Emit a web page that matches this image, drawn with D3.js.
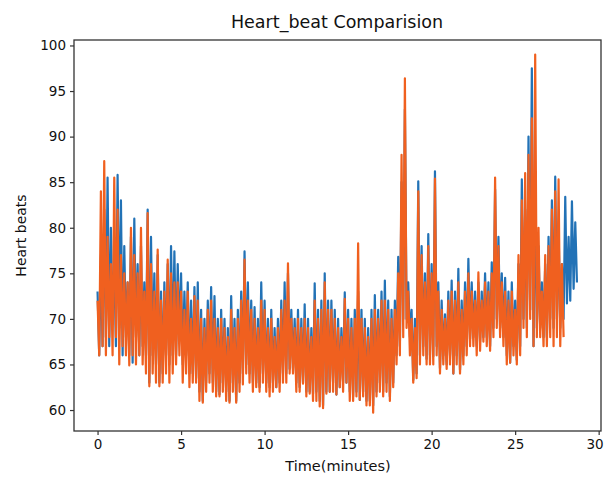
<!DOCTYPE html>
<html>
<head>
<meta charset="utf-8">
<script src="https://cdn.jsdelivr.net/npm/d3@7"></script>
<style>
  html, body { margin: 0; padding: 0; background: #ffffff; }
  svg { display: block; }
</style>
</head>
<body>
<div id="chart"></div>
<script>
// ---- data ----
const title = "Heart_beat Comparision";
const xLabel = "Time(minutes)";
const yLabel = "Heart beats";
const xTicks = [0, 5, 10, 15, 20, 25, 30];
const yTicks = [60, 65, 70, 75, 80, 85, 90, 95, 100];
const sampleStep = 0.1; // minutes between samples
const seriesNames = ["blue", "orange"];

const blueValues = [
  73,66, 77,67, 82,68, 85.5,67, 80,70, 76,67, 85.8,69, 83,66, 78,68, 74,66,
  79,65.2, 81,68, 76,66, 78,67, 74,66, 82,63, 79,66, 75,65, 77,63, 73,64,
  74,66, 76,65, 78,66, 77.4,66, 76,68, 75,65, 73,66, 74,64, 72,64, 73.5,63.5,
  74,62, 71,61, 70,63, 72,64, 73.5,63, 72.5,62, 70,61.7, 71,63, 70,62, 69,61,
  72.5,63, 70,61, 71,63, 73,64, 77.4,65, 74,64, 72,63, 71.3,63, 70,62.5, 74,64,
  72,63, 70,62.5, 71,63, 69,62.5, 70,63, 72,64, 74,64, 75,64.5, 71,64.6, 70,63,
  71,62.5, 70,63, 71.6,62, 70,62, 69,61.8, 73.9,62, 71,61, 72,60.5, 75,62, 72,62,
  72,63, 71,61.7, 70,62.5, 69,63, 72.9,63, 71,62, 70,61.5, 71,62, 73,61.1, 71,62,
  70,61, 69,61, 71,60.5, 72.6,62, 71,63, 73,62, 74.2,63, 72,61.5, 71,63, 72,66,
  76.8,67, 85,70, 93,70, 74,68, 71,63.3, 70,64, 85.1,66, 78,67, 75,65.6, 79.3,66,
  76,65.9, 86.2,67, 74,64.6, 72,66, 70.5,65, 73,66, 74.2,64, 73,66, 75.5,64.4, 72,66,
  74,67, 76.6,67.8, 74,68, 73,67, 74,67.5, 73,68, 75,68, 74,67, 76.2,69, 84.2,70,
  79,69, 75,68, 74.5,66, 73,65.2, 74,67, 72,65.5, 76,67, 85.3,70, 82,69, 90,71,
  97.5,67, 84,69, 78,69, 74,68, 76,68, 79,70, 83,69, 85.6,70, 80,69, 76,70,
  83.4,71.7, 79,72, 82.9,73.3, 80.6,74
];

const orangeValues = [
  72,66, 84,67, 87.3,66, 79,68, 76,66, 85.5,68, 82,65, 77,67, 75,66, 74,64.9,
  80,66, 77,65, 75,66, 80,65, 73,64, 81.6,62.6, 76,64, 73,63, 77.6,62.6, 72,63,
  73,64, 76.5,63, 75,64, 74,65, 74,66, 73,63, 71,64, 73,62.5, 70,63, 72.5,63,
  72,61, 70,60.8, 69,62, 71,63, 72,62, 70,61.5, 69,61.5, 70,62, 69,61, 68,60.8,
  71,62, 69,60.8, 70,62, 72,62.8, 76.5,64, 72,63, 71,62, 70,62.5, 69,62, 72,63,
  71,62, 69,61.5, 70,62, 68,62.5, 69,62, 71,63, 72,63, 76.1,64, 70,64, 69,62,
  70,62, 69,62.9, 70,61.5, 69,61.8, 68,61, 72,61, 70,60.4, 71,60.2, 74,61.8, 71,62,
  71,62, 70,61.7, 69,62.5, 68,62, 72.2,63, 70,61, 69,61, 70,61.5, 78.3,61.1, 70,61.5,
  69,60.5, 68,60.5, 70,59.7, 71,61.5, 70,62, 72,61.5, 72,62, 71,61, 70,62.5, 71,65,
  75,66, 88,68, 96.4,69, 73,66, 70,63, 69,63.5, 84,65, 77,66, 74,65, 78,65,
  75,65, 85.4,66, 73,64, 71,65, 70,64.5, 72,65, 73,64, 72,65, 74,64, 71,65,
  73,66, 75,67, 73,67, 72,66, 75.1,66.5, 72,67.5, 74,67, 73,66.5, 75,68, 85.5,69,
  78,68, 74,67, 73,65, 72,65.2, 73,66, 71,65, 77,66, 83,69, 86,68, 88,70,
  92,67, 99,68, 80,68, 73,67, 77,67, 78,68, 82,67, 84,68, 85.3,67, 76,68
];

// ---- drawing ----
const W = 607, H = 477;
const mLeft = 74, mRight = 601, mTop = 40, mBottom = 431;

const svg = d3.select("#chart").append("svg")
  .attr("width", W).attr("height", H)
  .style("font-family", "'DejaVu Sans', sans-serif");

const x = d3.scaleLinear().domain([-1.41, 30.14]).range([mLeft, mRight]);
const y = d3.scaleLinear().domain([57.7, 100.6]).range([mBottom, mTop]);

const colors = { blue: "#2272b6", orange: "#f0601f" };

svg.append("clipPath").attr("id", "plotclip")
  .append("rect").attr("x", mLeft).attr("y", mTop)
  .attr("width", mRight - mLeft).attr("height", mBottom - mTop);

const line = d3.line()
  .x((d, i) => x(i * sampleStep))
  .y(d => y(d));

const plot = svg.append("g").attr("clip-path", "url(#plotclip)");
[blueValues, orangeValues].forEach((vals, k) => {
  plot.append("path")
    .datum(vals)
    .attr("fill", "none")
    .attr("stroke", colors[seriesNames[k]])
    .attr("stroke-width", 2.2)
    .attr("stroke-linejoin", "round")
    .attr("d", line);
});

// axes
const xAxis = d3.axisBottom(x).tickValues(xTicks).tickSize(4).tickPadding(4).tickFormat(d3.format("d"));
const yAxis = d3.axisLeft(y).tickValues(yTicks).tickSize(4).tickPadding(4).tickFormat(d3.format("d"));

const gx = svg.append("g").attr("transform", `translate(0,${mBottom})`).call(xAxis);
const gy = svg.append("g").attr("transform", `translate(${mLeft},0)`).call(yAxis);
[gx, gy].forEach(g => {
  g.select(".domain").remove();
  g.selectAll(".tick line").attr("stroke", "#333").attr("stroke-width", 1.2);
  g.selectAll(".tick text").attr("fill", "#111").style("font-size", "13.5px")
    .style("font-family", "'DejaVu Sans', sans-serif");
});
// keep the last x label inside the picture
gx.selectAll(".tick text").filter(d => d === 30).attr("dx", "-0.3em");

// frame
svg.append("rect")
  .attr("x", mLeft).attr("y", mTop)
  .attr("width", mRight - mLeft).attr("height", mBottom - mTop)
  .attr("fill", "none").attr("stroke", "#333").attr("stroke-width", 1.3);

// title and labels
svg.append("text")
  .attr("x", 337).attr("y", 28)
  .attr("text-anchor", "middle")
  .attr("fill", "#111")
  .style("font-size", "17.5px")
  .text(title);

svg.append("text")
  .attr("x", 338).attr("y", 471)
  .attr("text-anchor", "middle")
  .attr("fill", "#111")
  .style("font-size", "14.5px")
  .text(xLabel);

svg.append("text")
  .attr("transform", `translate(26,${(mTop + mBottom) / 2}) rotate(-90)`)
  .attr("text-anchor", "middle")
  .attr("fill", "#111")
  .style("font-size", "14px")
  .text(yLabel);
</script>
</body>
</html>
